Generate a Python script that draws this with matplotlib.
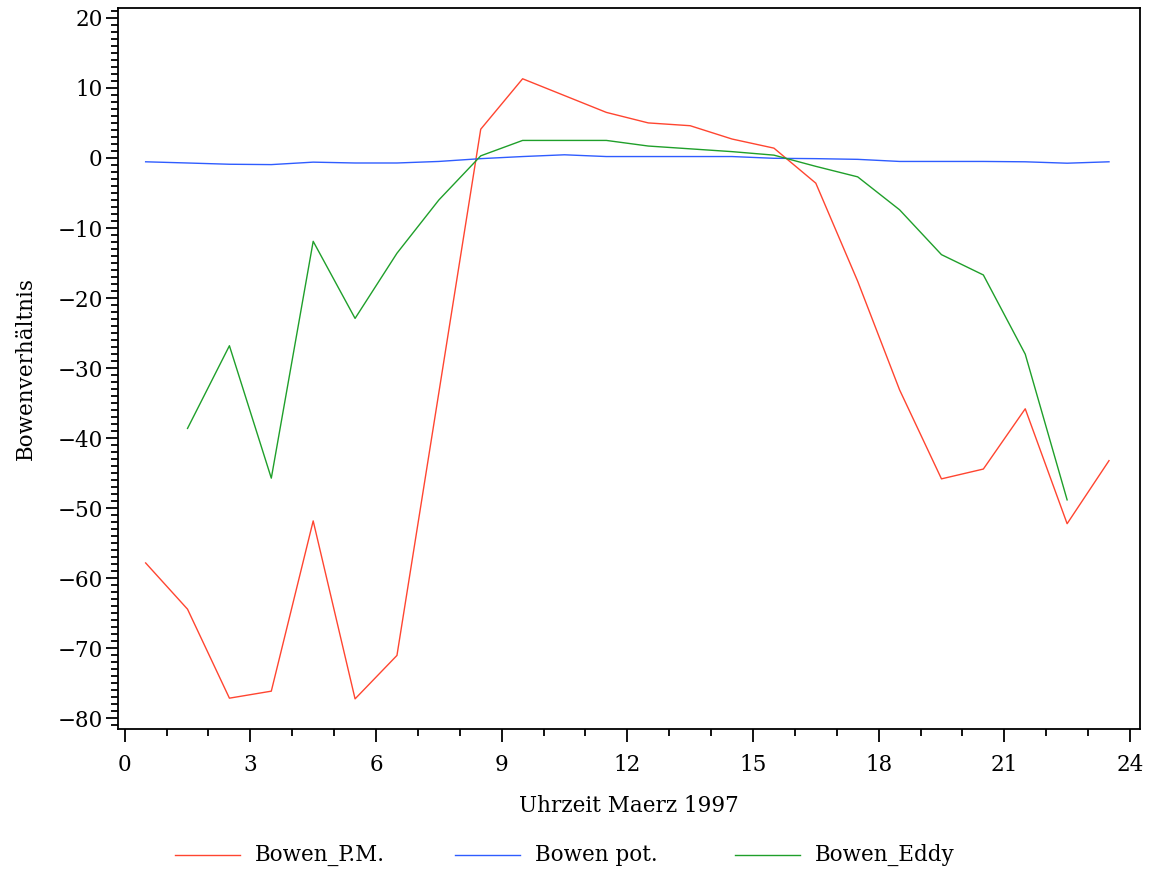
import matplotlib.pyplot as plt
import numpy as np
from matplotlib.ticker import MultipleLocator
from matplotlib.lines import Line2D

plt.rcParams['font.family'] = ['DejaVu Serif', 'Liberation Serif']
fs = 15.5

## === data: half-hourly Bowen ratios, March 1997 ===
hours = np.arange(0.5, 24, 1.0)

bowen_pm = [-57.8, -64.4, -77.1, -76.1, -51.8, -77.2, -71.0, -33.5,
            4.1, 11.3, 8.9, 6.5, 5.0, 4.6, 2.7, 1.4,
            -3.6, -17.6, -33.1, -45.8, -44.4, -35.8, -52.2, -43.2]

bowen_pot = [-0.55, -0.72, -0.9, -0.95, -0.6, -0.72, -0.72, -0.5,
             -0.1, 0.2, 0.45, 0.2, 0.2, 0.2, 0.2, -0.05,
             -0.1, -0.2, -0.5, -0.5, -0.5, -0.55, -0.75, -0.55]

# eddy series starts at 01:30 and ends at 22:30
hours_eddy = np.arange(1.5, 23, 1.0)
bowen_eddy = [-38.6, -26.8, -45.7, -11.9, -22.9, -13.6, -6.0,
              0.3, 2.5, 2.5, 2.5, 1.7, 1.3, 0.9, 0.4,
              -1.2, -2.7, -7.4, -13.8, -16.7, -28.0, -48.8]

names = ['Bowen_P.M.', 'Bowen pot.', 'Bowen_Eddy']
colors = ['#ff4530', '#2f5cff', '#1f9f2a']
lw = 1.0
## === ===

W, H = 1151, 871
fig = plt.figure(figsize=(W/100, H/100), dpi=100)
ax = fig.add_axes([118/W, 1-729/H, (1140-118)/W, (729-8)/H])

ax.plot(hours, bowen_pm, color=colors[0], linewidth=lw)
ax.plot(hours, bowen_pot, color=colors[1], linewidth=lw)
ax.plot(hours_eddy, bowen_eddy, color=colors[2], linewidth=lw)

ax.set_xlim(-0.16, 24.24)
ax.set_ylim(-81.5, 21.4)
ax.xaxis.set_major_locator(MultipleLocator(3))
ax.xaxis.set_minor_locator(MultipleLocator(1))
ax.yaxis.set_major_locator(MultipleLocator(10))
ax.yaxis.set_minor_locator(MultipleLocator(1))
ax.tick_params(which='major', direction='out', length=9, width=1.3,
               labelsize=fs, pad=9)
ax.tick_params(which='minor', direction='out', length=5, width=1.3)
ax.tick_params(axis='y', which='major', pad=2)
for sp in ax.spines.values():
    sp.set_linewidth(1.3)

ax.set_xlabel('Uhrzeit Maerz 1997', fontsize=fs)
ax.set_ylabel('Bowenverhältnis', fontsize=fs)
ax.xaxis.set_label_coords(0.5, -(795-729)/721)
ax.yaxis.set_label_coords(-(118-37)/1022, 0.5)

# legend row under the x axis label
ly = 1 - 855/H
for i in range(3):
    x0 = 175 + 280*i
    fig.add_artist(Line2D([x0/W, (x0+65)/W], [ly, ly], color=colors[i], linewidth=lw))
    fig.text((x0+80)/W, ly, names[i], fontsize=fs, va='center', ha='left')

fig.savefig('out.png', dpi=100)
